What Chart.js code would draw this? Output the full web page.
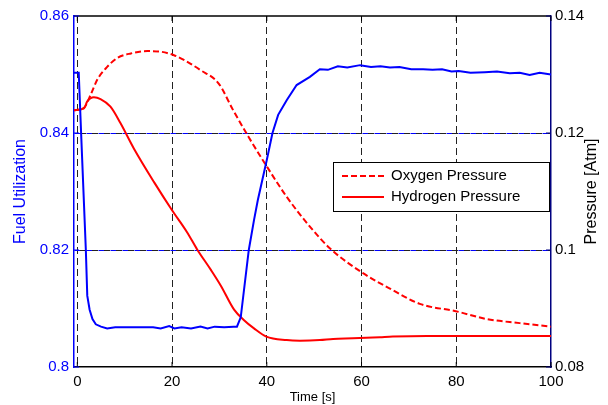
<!DOCTYPE html>
<html>
<head>
<meta charset="utf-8">
<script src="https://cdn.jsdelivr.net/npm/chart.js@4.4.1/dist/chart.umd.min.js"></script>
<style>
  html, body { margin: 0; padding: 0; background: #fff; }
</style>
</head>
<body>
<canvas id="fuelChart" width="608" height="405"></canvas>
<script>
/* data */
const fuelTime = [-0.7, 0.3, 0.85, 1.8, 2.1, 2.6, 3.2, 3.9, 5, 6.3, 8, 12, 16, 17.6, 19.4, 20.5, 22, 24, 26, 27.5, 29, 31, 33, 33.7,
                  34.5, 36.2, 37.3, 38.1, 40, 41.2, 42.4, 44.2, 46.3, 49.1, 51.2, 52.9, 55, 57, 59.7, 62, 64, 66, 68, 70.5,
                  73, 75, 77, 79, 80.5, 83, 86, 88.6, 91.3, 93.4, 95.5, 97.6, 100];
const fuelUtil = [0.8503, 0.8503, 0.839, 0.82, 0.8122, 0.8098, 0.8082, 0.8073, 0.8069, 0.8066, 0.8068, 0.8068, 0.8068, 0.8066,
                  0.8070, 0.8066, 0.8068, 0.8066, 0.8069, 0.8066, 0.8069, 0.8068, 0.8069, 0.8069,
                  0.8085, 0.82, 0.8251, 0.8285, 0.8354, 0.84, 0.8431, 0.8456, 0.8482, 0.8496, 0.8509, 0.8508, 0.8514, 0.8512,
                  0.8516, 0.8513, 0.8514, 0.8512, 0.8513, 0.8509, 0.8509, 0.8508, 0.8509, 0.8505, 0.8506, 0.8503, 0.8504,
                  0.8505, 0.8502, 0.8503, 0.8499, 0.8503, 0.8500];

const o2Time = [-0.7, 1.4, 2.8, 4.2, 6.3, 8.4, 11.3, 14.8, 17.6, 20.4, 22.5, 25.9, 29.8, 32.9, 36.1, 39.6, 44.2, 49.1,
                53.3, 60.4, 66, 72.3, 80.1, 86.4, 93.4, 100];
const o2Pressure = [0.1239, 0.1243, 0.1265, 0.1291, 0.1313, 0.1328, 0.1336, 0.1340, 0.1339, 0.1333, 0.1325, 0.1308, 0.1285,
                    0.1239, 0.1194, 0.1148, 0.1091, 0.1040, 0.1003, 0.0960, 0.0934, 0.0908, 0.0895, 0.0882, 0.0875, 0.0869];

const h2Time = [-0.7, 1.4, 2.1, 3.5, 4.9, 7.0, 9.1, 11.9, 16.2, 20.0, 23.2, 25.3, 28.2, 30.3, 33.1, 35.2, 37.3, 39.9, 44.2,
                47.0, 51.2, 54.0, 58.2, 63.9, 66.6, 73.8, 100];
const h2Pressure = [0.1239, 0.1242, 0.1254, 0.1261, 0.1258, 0.1245, 0.1217, 0.1174, 0.1116, 0.1068, 0.1030, 0.1001, 0.0966,
                    0.0939, 0.0898, 0.0880, 0.0866, 0.0852, 0.0846, 0.0845, 0.0846, 0.0848, 0.0849, 0.0851, 0.0852, 0.0853, 0.0853];

const xTicks = [0, 20, 40, 60, 80, 100];
const fuelTicks = [0.80, 0.82, 0.84, 0.86];
const pressureTicks = [0.08, 0.10, 0.12, 0.14];

const BLUE = '#0000ff';
const RED = '#ff0000';
const NAVY = '#000080';
const FONT = '"Liberation Sans", Arial, sans-serif';

const toPoints = (xs, ys) => xs.map((x, i) => ({ x: x, y: ys[i] }));
const fmt = v => String(+v.toFixed(3));
const clear = 'rgba(0,0,0,0)';

/* top border, inward tick marks and right axis label */
const frame = {
    id: 'frame',
    afterDraw(chart) {
        const { ctx, chartArea: a, scales } = chart;
        const line = (x1, y1, x2, y2) => { ctx.beginPath(); ctx.moveTo(x1, y1); ctx.lineTo(x2, y2); ctx.stroke(); };
        ctx.save();
        ctx.lineWidth = 1.5;
        ctx.strokeStyle = '#000';
        line(a.left, a.top, a.right, a.top);

        ctx.lineWidth = 1;
        xTicks.forEach(v => {
            const px = scales.x.getPixelForValue(v);
            line(px, a.bottom, px, a.bottom - 5);
            line(px, a.top, px, a.top + 5);
        });
        ctx.strokeStyle = BLUE;
        fuelTicks.forEach(v => {
            const py = scales.y.getPixelForValue(v);
            line(a.left, py, a.left + 5, py);
        });
        ctx.strokeStyle = NAVY;
        pressureTicks.forEach(v => {
            const py = scales.y1.getPixelForValue(v);
            line(a.right, py, a.right - 5, py);
        });

        ctx.translate(592, (a.top + a.bottom) / 2);
        ctx.rotate(-Math.PI / 2);
        ctx.fillStyle = '#000';
        ctx.font = '16px ' + FONT;
        ctx.textAlign = 'center';
        ctx.textBaseline = 'middle';
        ctx.fillText('Pressure [Atm]', 0, 0);
        ctx.restore();
    }
};

/* boxed legend for the pressure curves */
const legendBox = {
    id: 'legendBox',
    afterDraw(chart) {
        const { ctx, chartArea: a } = chart;
        const items = chart.data.datasets.filter(d => d.yAxisID === 'y1');
        const right = a.right - 2, left = right - 216, top = a.top + 146, h = 49;
        ctx.save();
        ctx.fillStyle = '#fff';
        ctx.fillRect(left, top, right - left, h);
        ctx.lineWidth = 1;
        ctx.strokeStyle = '#000';
        ctx.strokeRect(left + 0.5, top + 0.5, right - left, h);
        ctx.font = '15px ' + FONT;
        ctx.textBaseline = 'middle';
        items.forEach((d, i) => {
            const y = top + 14 + i * 21;
            ctx.strokeStyle = d.borderColor;
            ctx.lineWidth = 2;
            ctx.setLineDash(d.borderDash || []);
            ctx.beginPath();
            ctx.moveTo(left + 9, y);
            ctx.lineTo(left + 51, y);
            ctx.stroke();
            ctx.setLineDash([]);
            ctx.fillStyle = '#000';
            ctx.fillText(d.label, left + 58, y);
        });
        ctx.restore();
    }
};

const ctx = document.getElementById('fuelChart').getContext('2d');
const fuelChart = new Chart(ctx, {
    type: 'line',
    data: {
        datasets: [{
            label: 'Fuel Utilization',
            data: toPoints(fuelTime, fuelUtil),
            yAxisID: 'y',
            borderColor: BLUE,
            borderWidth: 2,
            pointRadius: 0,
            tension: 0
        },
        {
            label: 'Oxygen Pressure',
            data: toPoints(o2Time, o2Pressure),
            yAxisID: 'y1',
            borderColor: RED,
            borderWidth: 2,
            borderDash: [6, 3],
            pointRadius: 0,
            cubicInterpolationMode: 'monotone'
        },
        {
            label: 'Hydrogen Pressure',
            data: toPoints(h2Time, h2Pressure),
            yAxisID: 'y1',
            borderColor: RED,
            borderWidth: 2,
            pointRadius: 0,
            cubicInterpolationMode: 'monotone'
        }]
    },
    options: {
        responsive: false,
        animation: false,
        layout: { padding: { top: 16, left: 0, right: 0, bottom: 0 } },
        plugins: {
            legend: { display: false },
            tooltip: { enabled: false }
        },
        scales: {
            x: {
                type: 'linear',
                min: -0.7,
                max: 100,
                afterBuildTicks: s => { s.ticks = xTicks.map(value => ({ value })); },
                afterFit: s => { s.height = 38; },
                grid: {
                    color: c => (c.tick && c.tick.value === 100) ? clear : '#222',
                    lineWidth: 1,
                    drawTicks: false
                },
                border: { color: '#000', width: 1.5, dash: [7, 4] },
                ticks: { color: '#000', font: { family: FONT, size: 15 }, padding: 6, maxRotation: 0 },
                title: { display: true, text: 'Time [s]', color: '#000', font: { family: FONT, size: 13 }, padding: { top: 1, bottom: 0 } }
            },
            y: {
                type: 'linear',
                position: 'left',
                min: 0.80,
                max: 0.86,
                afterBuildTicks: s => { s.ticks = fuelTicks.map(value => ({ value })); },
                afterFit: s => { s.width = 74; },
                grid: {
                    color: c => (c.index === 0 || c.index === fuelTicks.length - 1) ? clear : BLUE,
                    lineWidth: 1,
                    drawTicks: false
                },
                border: { color: BLUE, width: 1.5, dash: [6, 6] },
                ticks: { color: BLUE, font: { family: FONT, size: 15 }, padding: 5, callback: fmt },
                title: { display: true, text: 'Fuel Utilization', color: BLUE, font: { family: FONT, size: 16 }, padding: { top: 11, bottom: 0 } }
            },
            y1: {
                type: 'linear',
                position: 'right',
                min: 0.08,
                max: 0.14,
                afterBuildTicks: s => { s.ticks = pressureTicks.map(value => ({ value })); },
                afterFit: s => { s.width = 57; },
                grid: {
                    color: c => (c.index === 0 || c.index === pressureTicks.length - 1) ? clear : '#222',
                    lineWidth: 1,
                    drawTicks: false
                },
                border: { color: NAVY, width: 1.5, dash: [6, 6], dashOffset: 6 },
                ticks: { color: '#000', font: { family: FONT, size: 15 }, padding: 4, callback: fmt }
            }
        }
    },
    plugins: [frame, legendBox]
});
</script>
</body>
</html>
